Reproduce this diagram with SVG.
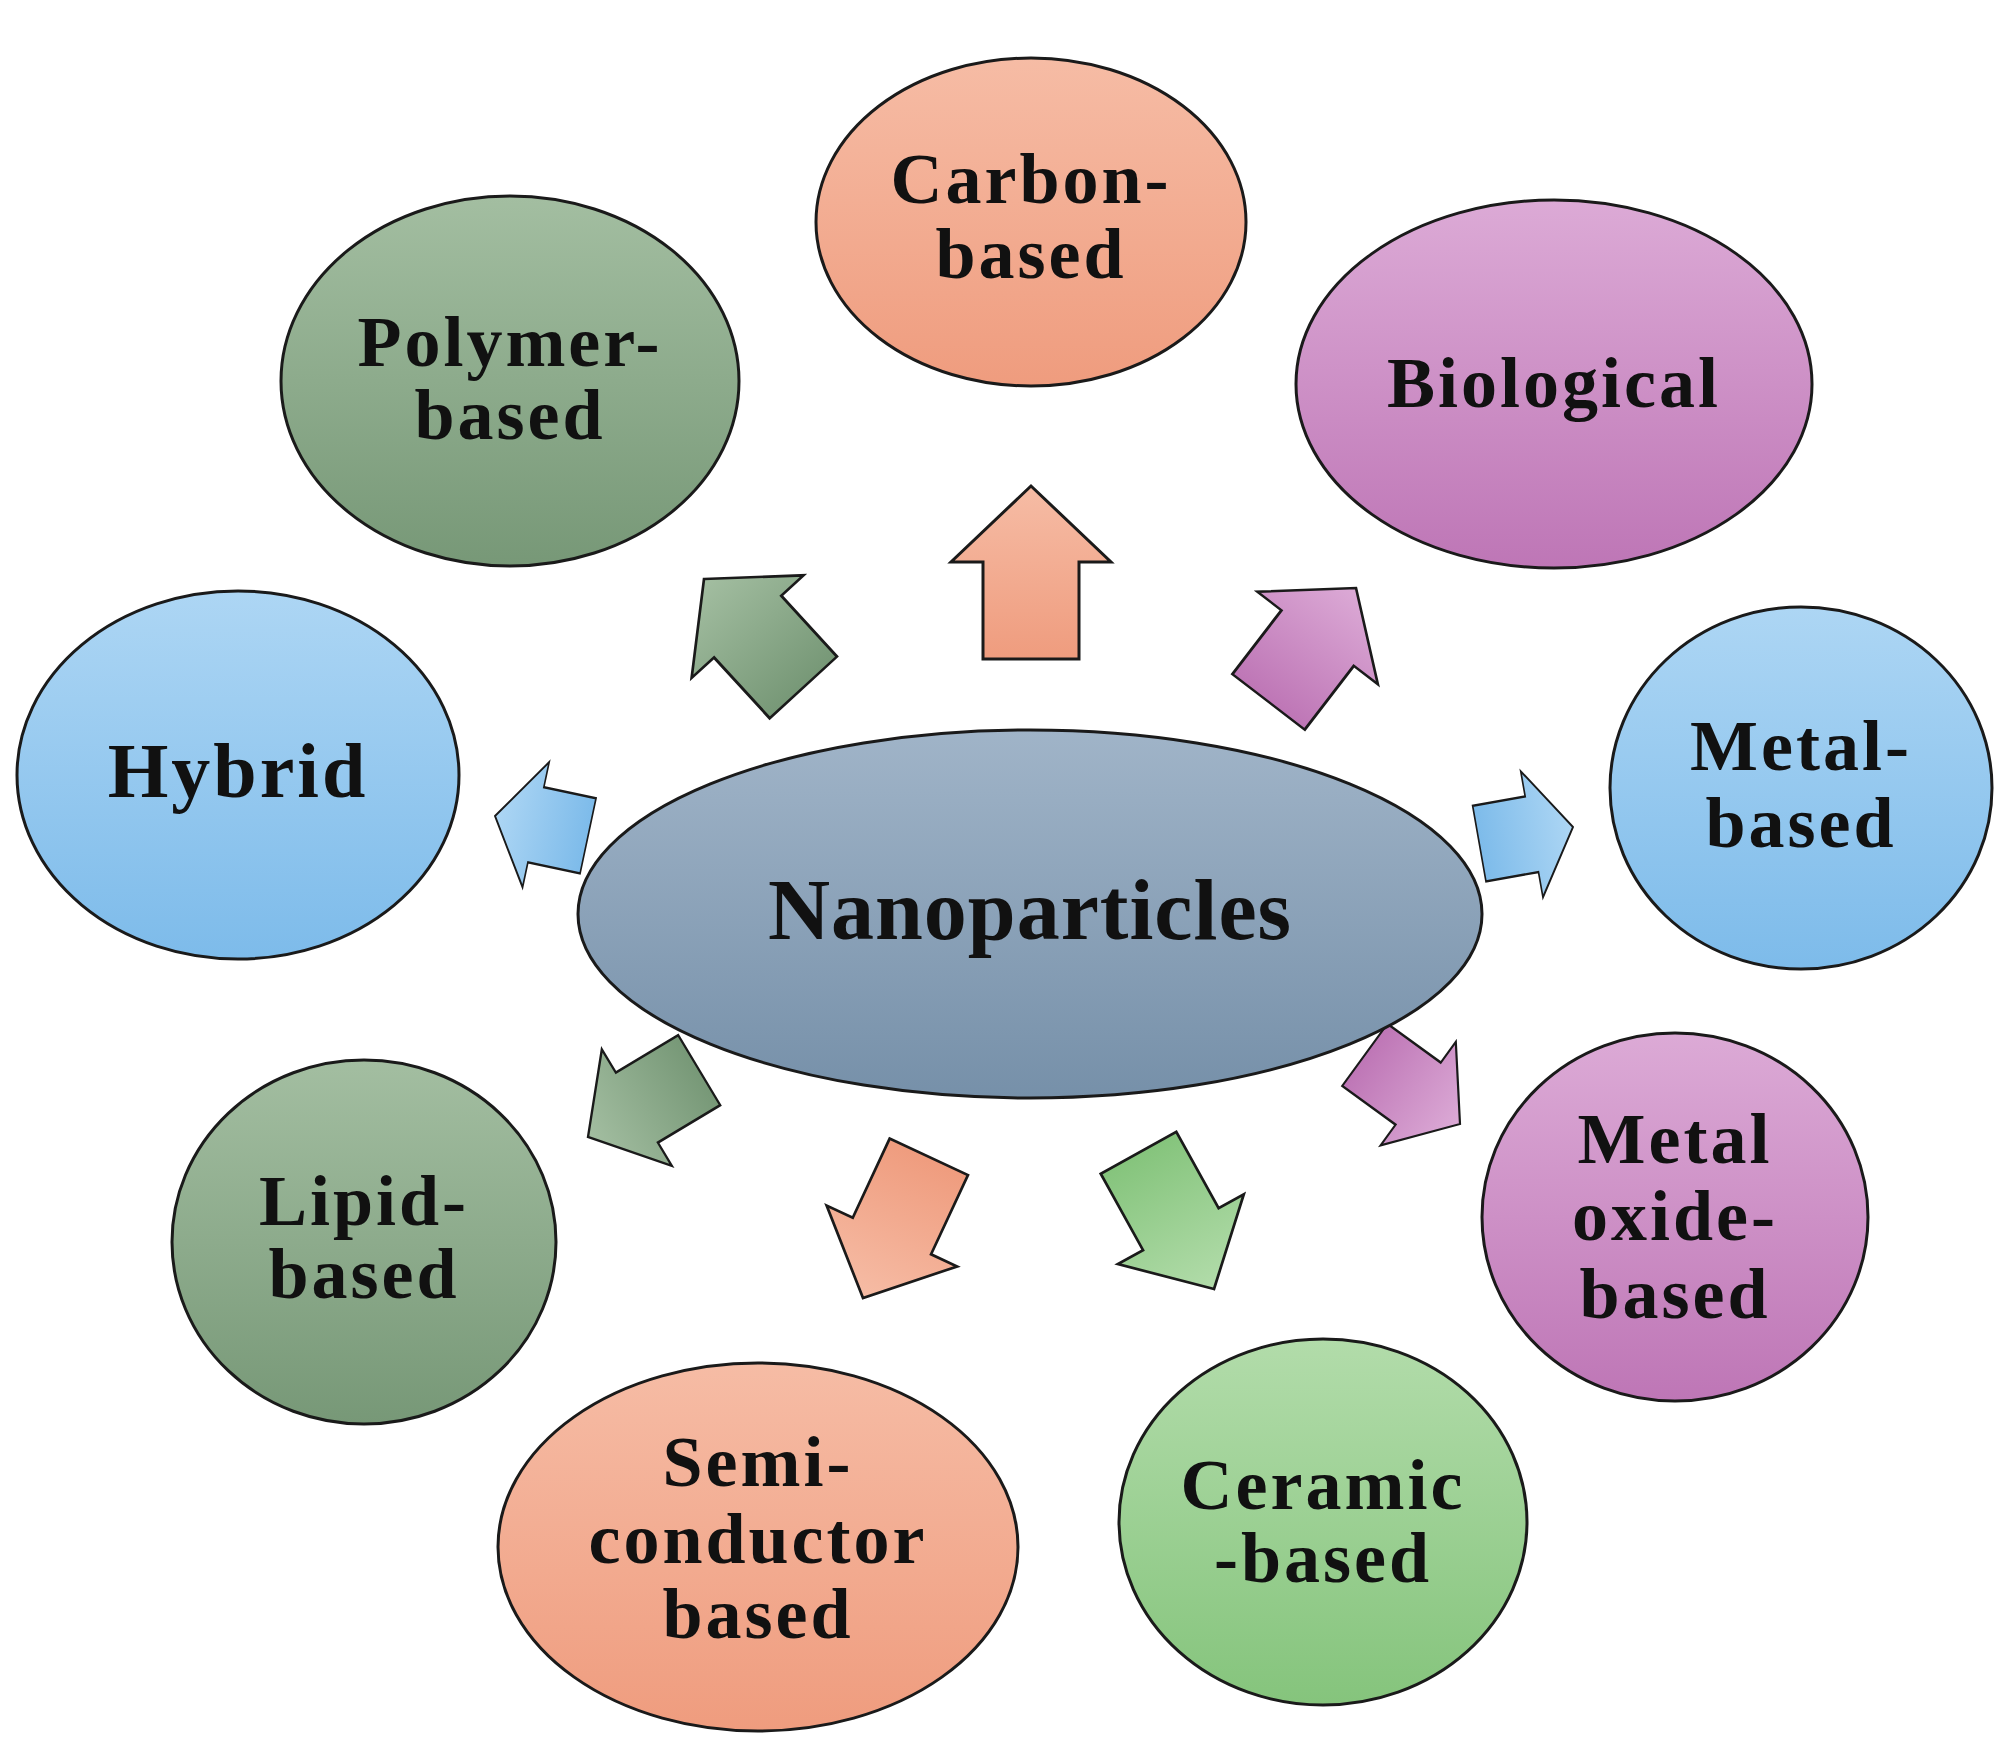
<svg xmlns="http://www.w3.org/2000/svg" width="2015" height="1757" viewBox="0 0 2015 1757">
<defs>
<linearGradient id="gS" x1="0" y1="0" x2="0" y2="1"><stop offset="0" stop-color="#f6bca5"/><stop offset="1" stop-color="#ef9c7e"/></linearGradient>
<linearGradient id="gG" x1="0" y1="0" x2="0" y2="1"><stop offset="0" stop-color="#a3bea1"/><stop offset="1" stop-color="#779877"/></linearGradient>
<linearGradient id="gP" x1="0" y1="0" x2="0" y2="1"><stop offset="0" stop-color="#dcaad6"/><stop offset="1" stop-color="#be76b6"/></linearGradient>
<linearGradient id="gB" x1="0" y1="0" x2="0" y2="1"><stop offset="0" stop-color="#add6f4"/><stop offset="1" stop-color="#7dbbea"/></linearGradient>
<linearGradient id="gL" x1="0" y1="0" x2="0" y2="1"><stop offset="0" stop-color="#b2dcaa"/><stop offset="1" stop-color="#85c47c"/></linearGradient>
<linearGradient id="gC" x1="0" y1="0" x2="0" y2="1"><stop offset="0" stop-color="#a0b4c8"/><stop offset="1" stop-color="#7690a9"/></linearGradient>
<path id="arr" d="M0,0 L80,76 L48,76 L48,173 L-48,173 L-48,76 L-80,76 Z"/>
</defs>
<style>
ellipse,use{stroke:#1a1a1a;stroke-width:3}
text{font-family:"Liberation Serif","Times New Roman",serif;font-weight:bold;font-size:72px;letter-spacing:3px;text-anchor:middle;fill:#111}
</style>
<rect width="2015" height="1757" fill="#fff"/>
<g id="connectors">
<use href="#arr" fill="url(#gS)" transform="translate(1031,486)"/>
<use href="#arr" fill="url(#gG)" transform="translate(704,579) rotate(-42.5) scale(0.95,0.85)"/>
<use href="#arr" fill="url(#gP)" transform="translate(1356,588) rotate(37.5) scale(0.95,0.83)"/>
<use href="#arr" fill="url(#gB)" transform="translate(495,816) rotate(-78) scale(0.8,0.55)"/>
<use href="#arr" fill="url(#gB)" transform="translate(1573,827) rotate(80) scale(0.8,0.55)"/>
<use href="#arr" fill="url(#gG)" transform="translate(588,1137) rotate(-121) scale(0.85,0.75)"/>
<use href="#arr" fill="url(#gP)" transform="translate(1460,1124) rotate(126) scale(0.8,0.68)"/>
<use href="#arr" fill="url(#gS)" transform="translate(863,1298) rotate(-155) scale(0.9,0.9)"/>
<use href="#arr" fill="url(#gL)" transform="translate(1214,1289) rotate(151) scale(0.9,0.9)"/>
</g>
<g id="carbon"><ellipse cx="1031" cy="222" rx="215" ry="164" fill="url(#gS)"/><text x="1031" y="203">Carbon-</text><text x="1031" y="278">based</text></g>
<g id="polymer"><ellipse cx="510" cy="381" rx="229" ry="185" fill="url(#gG)"/><text x="510" y="366">Polymer-</text><text x="510" y="439">based</text></g>
<g id="biological"><ellipse cx="1554" cy="384" rx="258" ry="184" fill="url(#gP)"/><text x="1554" y="407">Biological</text></g>
<g id="hybrid"><ellipse cx="238" cy="775" rx="221" ry="184" fill="url(#gB)"/><text x="238" y="797" style="font-size:78px">Hybrid</text></g>
<g id="metal"><ellipse cx="1801" cy="788" rx="191" ry="181" fill="url(#gB)"/><text x="1801" y="770">Metal-</text><text x="1801" y="847">based</text></g>
<g id="nano"><ellipse cx="1030" cy="914" rx="452" ry="184" fill="url(#gC)"/><text x="1030" y="939" style="font-size:86px;letter-spacing:1px">Nanoparticles</text></g>
<g id="lipid"><ellipse cx="364" cy="1242" rx="192" ry="182" fill="url(#gG)"/><text x="364" y="1225">Lipid-</text><text x="364" y="1298">based</text></g>
<g id="metaloxide"><ellipse cx="1675" cy="1217" rx="193" ry="184" fill="url(#gP)"/><text x="1675" y="1163">Metal</text><text x="1675" y="1240">oxide-</text><text x="1675" y="1318">based</text></g>
<g id="semi"><ellipse cx="758" cy="1547" rx="260" ry="184" fill="url(#gS)"/><text x="758" y="1486">Semi-</text><text x="758" y="1563">conductor</text><text x="758" y="1638">based</text></g>
<g id="ceramic"><ellipse cx="1323" cy="1522" rx="204" ry="183" fill="url(#gL)"/><text x="1323" y="1509">Ceramic</text><text x="1323" y="1582">-based</text></g>
</svg>
